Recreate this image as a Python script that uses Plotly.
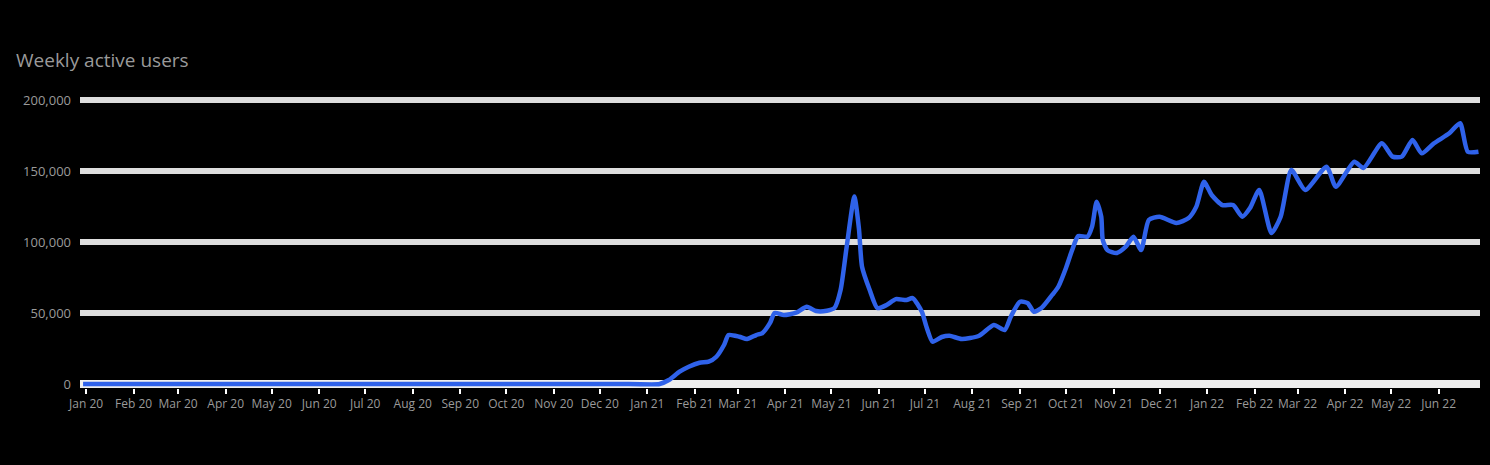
import plotly.graph_objects as go

# weekly-ish readings taken off the chart
dates = [
    "2019-12-30", "2020-12-20", "2021-01-09", "2021-01-15", "2021-01-22", "2021-01-28",
    "2021-02-04", "2021-02-10", "2021-02-15", "2021-02-20", "2021-02-23", "2021-03-02",
    "2021-03-07", "2021-03-13", "2021-03-17", "2021-03-22", "2021-03-25", "2021-03-31",
    "2021-04-08", "2021-04-15", "2021-04-21", "2021-04-28", "2021-05-03", "2021-05-07",
    "2021-05-11", "2021-05-16", "2021-05-19", "2021-05-21", "2021-05-26", "2021-05-31",
    "2021-06-06", "2021-06-12", "2021-06-19", "2021-06-23", "2021-06-29", "2021-07-02",
    "2021-07-06", "2021-07-12", "2021-07-17", "2021-07-25", "2021-08-05", "2021-08-15",
    "2021-08-22", "2021-08-26", "2021-09-01", "2021-09-06", "2021-09-10", "2021-09-15",
    "2021-09-22", "2021-09-26", "2021-10-01", "2021-10-05", "2021-10-09", "2021-10-15",
    "2021-10-18", "2021-10-21", "2021-10-24", "2021-10-25", "2021-10-28", "2021-11-03",
    "2021-11-09", "2021-11-14", "2021-11-19", "2021-11-24", "2021-12-01", "2021-12-12",
    "2021-12-20", "2021-12-25", "2021-12-30", "2022-01-04", "2022-01-11", "2022-01-18",
    "2022-01-24", "2022-01-29", "2022-02-04", "2022-02-12", "2022-02-18", "2022-02-25",
    "2022-03-06", "2022-03-20", "2022-03-26", "2022-04-07", "2022-04-13", "2022-04-25",
    "2022-05-02", "2022-05-08", "2022-05-15", "2022-05-21", "2022-05-29", "2022-06-08",
    "2022-06-15", "2022-06-20", "2022-06-27",
]
values = [
    0, 0, 0, 2800, 8700, 12200,
    15000, 15700, 19200, 27500, 34500, 33300,
    31700, 34500, 35900, 43000, 50000, 48600,
    50200, 54400, 51400, 51600, 53500, 66200,
    96700, 132000, 109100, 82600, 66200, 53500,
    55600, 59800, 59100, 60500, 50900, 40300,
    29800, 33100, 34000, 31700, 33800, 41500,
    38000, 47400, 57900, 57000, 50900, 53500,
    62700, 68500, 81700, 94300, 104200, 103700,
    110800, 128400, 117800, 101400, 94300, 92200,
    96700, 103700, 94300, 115500, 117800, 113400,
    116900, 124900, 142400, 133100, 126000, 126000,
    117800, 123900, 136600, 106300, 117800, 150700,
    136600, 153000, 138900, 156500, 152100, 169500,
    160100, 160100, 171800, 162400, 169500, 176500,
    183600, 163600, 163600,
]

y_ticks = [0, 50000, 100000, 150000, 200000]

fig = go.Figure()
fig.add_trace(go.Scatter(x=dates, y=values, mode='lines', name='Total',
                         line=dict(color='#2f62ea', width=4.5, shape='spline', smoothing=0.6)))

fig.update_layout(
    title=dict(text='Weekly active users', x=16 / 1490, xref='container', xanchor='left',
               y=1 - 60 / 465, yref='container', yanchor='middle',
               font=dict(size=19, color='#9a9a9a')),
    width=1490, height=465,
    paper_bgcolor='black', plot_bgcolor='black',
    font=dict(family='Open Sans', size=12, color='#9a9a9a'),
    showlegend=False,
    margin=dict(l=80, r=10, t=96, b=77),
    xaxis=dict(type='date', range=['2019-12-28', '2022-06-28'], dtick='M1',
               tick0='2020-01-01', tickformat='%b %y', showgrid=False,
               ticks='outside', ticklen=5, tickcolor='white', tickwidth=2,
               tickangle=0, tickfont=dict(size=12)),
    yaxis=dict(range=[-2800, 202800], tickvals=y_ticks, tickformat=',',
               gridcolor='#dedede', gridwidth=6, zeroline=True,
               zerolinecolor='#eeeeee', zerolinewidth=8, tickfont=dict(size=13),
               ticklabelstandoff=8),
)

fig.write_html("out.html", config={'displayModeBar': False},
               post_script="document.body.style.margin='0';document.body.style.background='black';")
